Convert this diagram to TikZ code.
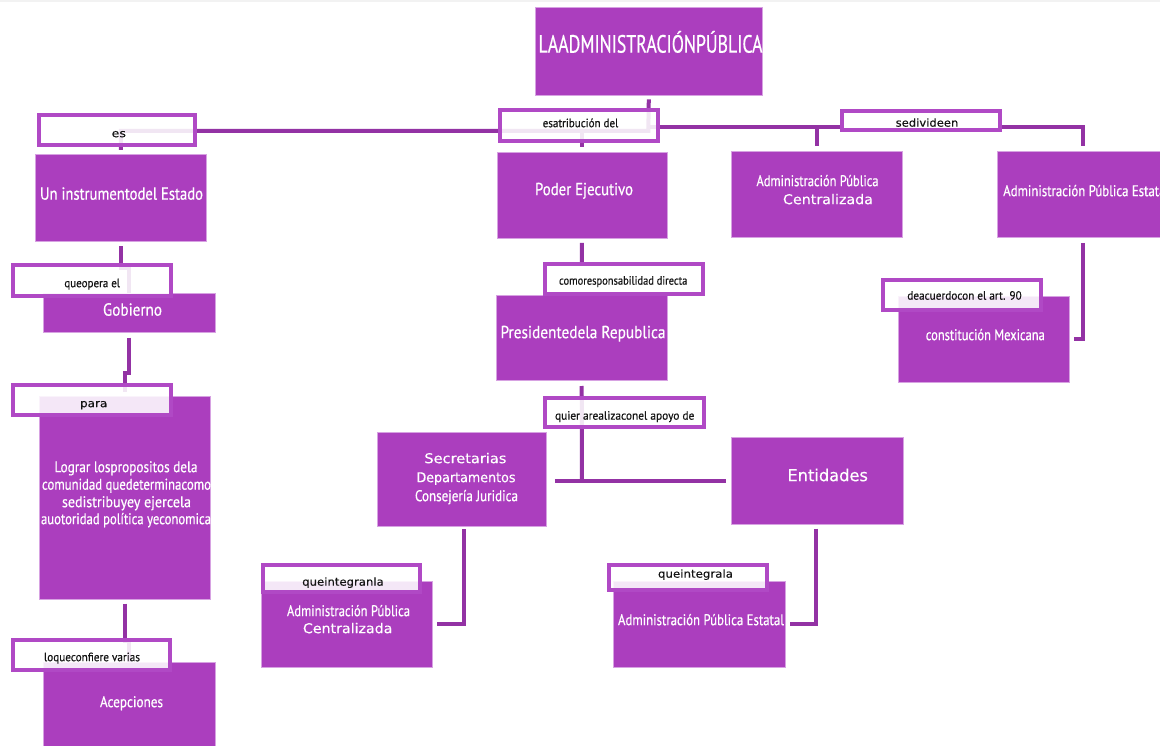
\documentclass[tikz,border=0pt]{standalone}
\usepackage{fontspec}
\usepackage{graphicx}
\newfontfamily\cnd[FakeBold=0.6]{PT Sans}
\newfontfamily\wid[FakeBold=0.3]{DejaVu Sans}
\definecolor{boxc}{HTML}{AB3EBE}
\definecolor{edgec}{HTML}{D7A2E2}
\definecolor{connc}{HTML}{9332A4}
\definecolor{labc}{HTML}{B049C5}
\newlength\fitlen
\newcommand\fitx[2]{\settowidth\fitlen{#2}\pgfmathsetmacro\fitfac{#1/\fitlen}\scalebox{\fitfac}[1]{#2}}
\begin{document}
\begin{tikzpicture}[x=1pt,y=-1pt,
  box/.style={rectangle, fill=boxc, draw=edgec, line width=0.7pt, inner sep=0pt},
  lab/.style={rectangle, draw=labc, line width=4pt, fill=white, fill opacity=0.88, inner sep=0pt},
  conn/.style={draw=connc, line width=4pt},
  wt/.style={text=white, inner sep=0pt, anchor=mid, yshift=-3pt},
  bt/.style={text=black!92, inner sep=0pt, anchor=mid, yshift=-2.5pt},
  big/.style={font=\cnd\fontsize{17.5}{20}\selectfont},
  mid/.style={font=\cnd\fontsize{15.5}{18}\selectfont},
  small/.style={font=\cnd\fontsize{12}{14}\selectfont},
  wsmall/.style={font=\wid\fontsize{11}{13}\selectfont},
  wmid/.style={font=\wid\fontsize{13.5}{16}\selectfont},
]
\useasboundingbox (0,0) rectangle (1160,746);
\fill[gray!10] (0,0) rectangle (1160,2.5);

% ---------- boxes ----------
\node[box, minimum width=227.7pt, minimum height=87.7pt] (title) at (648.8,51.2) {};
\node[box, minimum width=171.7pt, minimum height=87.3pt] (inst) at (120.8,198) {};
\node[box, minimum width=171.7pt, minimum height=39.3pt] (gob) at (129.2,313) {};
\node[box, minimum width=171.7pt, minimum height=203.3pt] (lograr) at (124.8,497.7) {};
\node[box, minimum width=171.7pt, minimum height=87.7pt] (acep) at (129.2,706.2) {};
\node[box, minimum width=170pt, minimum height=86pt] (poder) at (582,195) {};
\node[box, minimum width=171.3pt, minimum height=85.7pt] (pres) at (581.7,337.8) {};
\node[box, minimum width=169.4pt, minimum height=94pt] (secr) at (461.7,479.7) {};
\node[box, minimum width=171.5pt, minimum height=86.6pt] (ent) at (817.1,481) {};
\node[box, minimum width=171pt, minimum height=86pt] (apc) at (346.5,624) {};
\node[box, minimum width=172pt, minimum height=86pt] (ape) at (699,624) {};
\node[box, minimum width=171.7pt, minimum height=86.7pt] (apcb) at (816.8,194.3) {};
\node[box, minimum width=177.3pt, minimum height=86.7pt] (apeb) at (1086.3,194.3) {};
\node[box, minimum width=171pt, minimum height=85.3pt] (const) at (983.8,339.3) {};

% ---------- connectors ----------
\coordinate (hubL) at (648.3,131);
\coordinate (hubR) at (648.3,127.5);
\coordinate (junc) at (582,480.7);
\draw[conn, shorten >=4pt] ([yshift=-4pt]title.south) -- (hubL) -| (inst.north);
\draw[conn, shorten >=4.5pt] (hubR) -| ([xshift=-3.3pt]apeb.north);
\draw[conn, shorten >=4.5pt] (apcb.north |- hubR) -- (apcb.north);
\draw[conn, shorten >=5pt] (poder.north |- hubL) -- (poder.north);
\draw[conn, shorten <=4.5pt] (inst.south) -- (120.8,268) -| (gob.north);
\draw[conn, shorten <=4.5pt, shorten >=4pt] (gob.south) -- (129.2,373) -| (lograr.north);
\draw[conn, shorten <=4pt] (lograr.south) -- (124.8,641) -| (acep.north);
\draw[conn, shorten <=4.5pt, shorten >=2pt] (poder.south) -- (pres.north);
\draw[conn, shorten <=5pt] (pres.south) -- (junc);
\draw[conn, shorten <=8pt, shorten >=5pt] (secr.east |- junc) -- (ent.west |- junc);
\draw[conn, shorten <=2pt, shorten >=4.5pt] ([xshift=2.6pt]secr.south) |- (apc.east);
\draw[conn, shorten <=4pt, shorten >=5pt] ([xshift=-0.7pt]ent.south) |- (ape.east);
\draw[conn, shorten <=5pt, shorten >=4.7pt] ([xshift=-3pt]apeb.south) |- (const.east);

% ---------- labels ----------
\node[lab, minimum width=156.6pt, minimum height=30pt] (esL) at (117,130.3) {};
\node[lab, minimum width=157.7pt, minimum height=31pt] (queoperaL) at (91.8,280.2) {};
\node[lab, minimum width=158pt, minimum height=30pt] (paraL) at (92.2,399.5) {};
\node[lab, minimum width=157.6pt, minimum height=30pt] (loqL) at (91.5,655.3) {};
\node[lab, minimum width=157.7pt, minimum height=31pt] (esatribL) at (579.2,125.2) {};
\node[lab, fill opacity=1, minimum width=157.7pt, minimum height=29.7pt] (comoL) at (624.2,279.2) {};
\node[lab, minimum width=158.4pt, minimum height=29.5pt] (quierL) at (624.5,412.5) {};
\node[lab, fill opacity=1, minimum width=157.7pt, minimum height=18.7pt] (sedL) at (920.8,120.3) {};
\node[lab, minimum width=158pt, minimum height=30.3pt] (deacL) at (962,294.8) {};
\node[lab, minimum width=157pt, minimum height=27.5pt] (qinlaL) at (341,578.5) {};
\node[lab, minimum width=158pt, minimum height=25.7pt] (qilaL) at (688,577.5) {};

% ---------- texts in boxes ----------
\node[wt, font=\cnd\fontsize{25}{28}\selectfont] (titleT) at (650.5,47.5) {\fitx{224}{LAADMINISTRACIÓNPÚBLICA}};
\node[wt, big] (instT) at (121.5,194.5) {\fitx{163}{Un instrumentodel Estado}};
\node[wt, big] (gobT) at (132.5,310.5) {\fitx{59}{Gobierno}};
\node[wt, mid] (lg1) at (126,467) {\fitx{143}{Lograr lospropositos dela}};
\node[wt, mid] (lg2) at (126.5,484.5) {\fitx{169}{comunidad quedeterminacomo}};
\node[wt, mid] (lg3) at (126.5,502) {\fitx{129}{sedistribuyey ejercela}};
\node[wt, mid] (lg4) at (126,519) {\fitx{170}{auotoridad política yeconomica}};
\node[wt, mid] (acepT) at (131.5,702) {\fitx{63}{Acepciones}};
\node[wt, big] (poderT) at (584,190) {\fitx{98}{Poder Ejecutivo}};
\node[wt, big] (presT) at (583,333) {\fitx{165}{Presidentedela Republica}};
\node[wt, wmid] (sc1) at (465.4,458) {\fitx{82}{Secretarias}};
\node[wt, wmid] (sc2) at (466,477) {\fitx{99}{Departamentos}};
\node[wt, mid] (sc3) at (466.5,496) {\fitx{103}{Consejería Juridica}};
\node[wt, font=\wid\fontsize{16.5}{19}\selectfont] (entT) at (827.7,476) {\fitx{80.4}{Entidades}};
\node[wt, mid] (apc1T) at (348.5,611) {\fitx{123}{Administración Pública}};
\node[wt, wmid] (apc2T) at (347.7,628) {\fitx{89.5}{Centralizada}};
\node[wt, mid] (apeT) at (701,620) {\fitx{166}{Administración Pública Estatal}};
\node[wt, mid] (apcb1T) at (817.5,181) {\fitx{122}{Administración Pública}};
\node[wt, wmid] (apcb2T) at (828,199) {\fitx{90}{Centralizada}};
\node[wt, mid, anchor=mid west] (apebT) at (1003,191) {\fitx{166}{Administración Pública Estatal}};
\node[wt, mid] (constT) at (985.3,335) {\fitx{119}{constitución Mexicana}};

% ---------- texts in labels ----------
\node[bt, wsmall] (esT) at (118.8,132.5) {\fitx{14.3}{es}};
\node[bt, small] (queoperaT) at (92.2,282.5) {\fitx{55.7}{queopera el}};
\node[bt, wsmall] (paraT) at (93.7,402.5) {\fitx{27.3}{para}};
\node[bt, small] (loqT) at (92,656.5) {\fitx{96}{loqueconfiere varias}};
\node[bt, small] (esatribT) at (580.5,122.5) {\fitx{75.6}{esatribución del}};
\node[bt, small] (comoT) at (623.2,280) {\fitx{128.3}{comoresponsabilidad directa}};
\node[bt, small] (quierT) at (624.7,415) {\fitx{139.3}{quier arealizaconel apoyo de}};
\node[bt, wsmall] (sedT) at (927,122) {\fitx{62.6}{sedivideen}};
\node[bt, small] (deacT) at (964.5,295) {\fitx{114.4}{deacuerdocon el art. 90}};
\node[bt, wsmall] (qinlaT) at (343,581) {\fitx{81.5}{queintegranla}};
\node[bt, wsmall] (qilaT) at (695.5,573) {\fitx{75}{queintegrala}};
\end{tikzpicture}
\end{document}
